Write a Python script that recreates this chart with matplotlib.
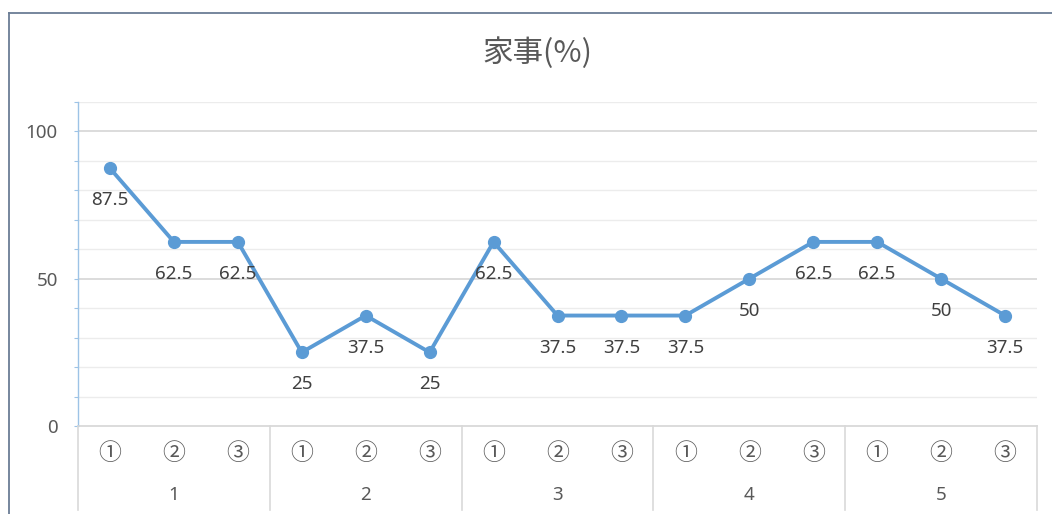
import matplotlib
matplotlib.use("Agg")
import matplotlib.pyplot as plt
from matplotlib.lines import Line2D
from matplotlib.transforms import blended_transform_factory

plt.rcParams['font.family'] = ['Noto Sans', 'Noto Sans CJK JP', 'DejaVu Sans']
CJK = ['Noto Sans CJK JP', 'DejaVu Sans']

# Chart data
title = "家事(%)"
groups = ["1", "2", "3", "4", "5"]
subcats = ["①", "②", "③"]
values = [87.5, 62.5, 62.5, 25, 37.5, 25, 62.5, 37.5, 37.5, 37.5, 50, 62.5, 62.5, 50, 37.5]

W, H = 1052, 514
fig = plt.figure(figsize=(W / 100, H / 100), dpi=100)
fig.patch.set_facecolor("white")

def px(x0, y0, x1, y1):
    return [x0 / W, 1 - y1 / H, (x1 - x0) / W, (y1 - y0) / H]

ax = fig.add_axes(px(78, 102, 1037, 426))
ax.set_xlim(0, len(values))
ax.set_ylim(0, 110)

text_col = "#595959"
line_col = "#5B9BD5"

# gridlines
for y in range(10, 111, 10):
    major = y % 50 == 0
    ax.axhline(y, color="#d9d9d9" if major else "#ececec", lw=1.3 if major else 1.0, zorder=0)

for s in ["top", "right", "bottom"]:
    ax.spines[s].set_visible(False)
ax.spines["left"].set_color("#9dc3e6")
ax.spines["left"].set_linewidth(1.0)

ax.set_yticks(range(0, 111, 10))
ax.set_yticklabels([str(y) if y % 50 == 0 and y <= 100 else "" for y in range(0, 111, 10)],
                   color=text_col, fontsize=13.5)
ax.tick_params(axis="y", direction="out", length=3, color="#9dc3e6", pad=11.5)
ax.set_xticks([])

# bottom axis line
ax.axhline(0, color="#d9d9d9", lw=1.3, zorder=1, clip_on=False)

xs = [i + 0.5 for i in range(len(values))]
ax.plot(xs, values, color=line_col, lw=2.8, marker="o", markersize=8.5,
        solid_capstyle="round", zorder=3, clip_on=False)

for x, v in zip(xs, values):
    ax.annotate(f"{v:g}", (x, v), xytext=(0, -32), textcoords="offset pixels",
                ha="center", va="center", fontsize=13.5, color="#404040")

# multi-level category axis
tr = blended_transform_factory(ax.transData, fig.transFigure)
n = len(subcats)
for gi, g in enumerate(groups):
    for si, s in enumerate(subcats):
        ax.text(gi * n + si + 0.5, 1 - 453 / H, s, transform=tr, ha="center", va="center",
                fontsize=16.5, color=text_col, family=CJK)
    ax.text(gi * n + n / 2, 1 - 495 / H, g, transform=tr, ha="center", va="center",
            fontsize=13.5, color=text_col)
for k in range(len(groups) + 1):
    xk = k * n
    fig.add_artist(Line2D([xk, xk], [1 - 426 / H, 1 - 510 / H], transform=tr,
                          color="#d9d9d9", lw=1.2))

fig.text(537 / W, 1 - 53 / H, title, ha="center", va="center", fontsize=22,
         color=text_col, family=CJK)

# outer chart frame
fig.add_artist(Line2D([9 / W, 9 / W], [0, 1 - 13 / H], color="#6b7d95", lw=1.3))
fig.add_artist(Line2D([9 / W, 1], [1 - 13 / H, 1 - 13 / H], color="#6b7d95", lw=1.3))

fig.savefig("out.png", dpi=100, facecolor="white")
